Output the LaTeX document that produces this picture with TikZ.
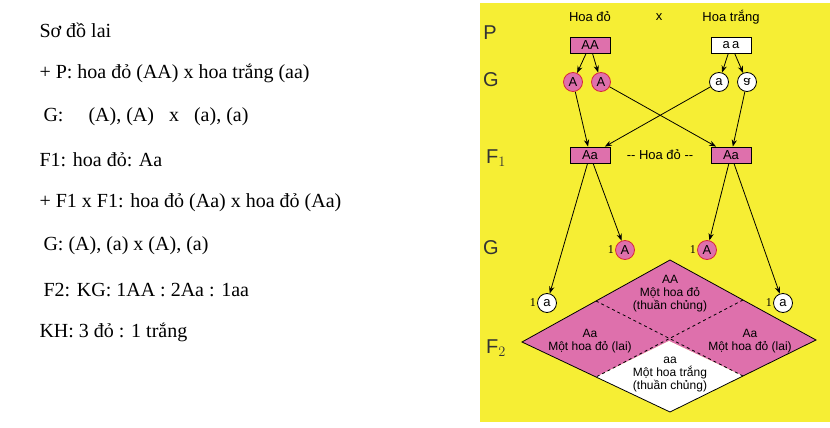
\documentclass[tikz,border=0pt]{standalone}
\usepackage{fontspec}
\setmainfont{Liberation Serif}
\newfontfamily\panelfont{Liberation Sans}
\usetikzlibrary{arrows.meta,calc}
\definecolor{panelyellow}{RGB}{246,238,52}
\definecolor{flowerpink}{RGB}{222,112,172}
\definecolor{gameteRed}{RGB}{215,40,60}
\begin{document}
\begin{tikzpicture}[x=1pt,y=-1pt,
  line/.style={anchor=west,font=\fontsize{20}{22}\selectfont},
  gbox/.style={draw,thick,minimum width=40pt,minimum height=16pt,inner sep=0pt,font=\panelfont\fontsize{13}{14}\selectfont},
  gam/.style={circle,thick,minimum size=19pt,inner sep=0pt,font=\panelfont\fontsize{13}{14}\selectfont},
  redgam/.style={gam,draw=gameteRed,fill=flowerpink},
  whitegam/.style={gam,draw=black,fill=white},
  tag/.style={font=\panelfont\fontsize{13}{14}\selectfont},
  cell/.style={align=center,font=\panelfont\fontsize{12}{13}\selectfont},
  one/.style={anchor=east,inner sep=1pt,font=\fontsize{12}{13}\selectfont},
  gen/.style={font=\panelfont\fontsize{20}{22}\selectfont,text=black!80},
  arr/.style={thick,-{Stealth[length=7pt]}}]
\useasboundingbox (0,0) rectangle (830,428);
% left column
\node[line] (t1) at (36,30) {Sơ đồ lai};
\node[line] (t2) at (36,73) {+ P: hoa đỏ (AA) x hoa trắng (aa)};
\node[line] (t3) at (40,117) {G:\quad\ (A), (A)\ \ \ x\ \ \ (a), (a)};
\node[line] (t4) at (36,160) {F1: hoa đỏ: Aa};
\node[line] (t5) at (36,203) {+ F1 x F1: hoa đỏ (Aa) x hoa đỏ (Aa)};
\node[line] (t6) at (40,246) {G: (A), (a) x (A), (a)};
\node[line] (t7) at (40,290) {F2: KG: 1AA : 2Aa : 1aa};
\node[line] (t8) at (36,332) {KH: 3 đỏ : 1 trắng};
% panel
\fill[panelyellow] (480,3) rectangle (830,422);
\node[gen] (lP) at (490,33) {P};
\node[gen] (lG1) at (491,80) {G};
\node[gen] (lF1) at (496,158) {F$_1$};
\node[gen] (lG2) at (491,248) {G};
\node[gen] (lF2) at (496,348) {F$_2$};
\node[tag] (red) at (590,17) {Hoa đỏ};
\node[tag] (cross) at (659,17) {x};
\node[tag] (white) at (731,17) {Hoa trắng};
\node[gbox,fill=flowerpink] (AA) at (590,45) {AA};
\node[gbox,fill=white] (aa) at (731,45) {a\,a};
\node[redgam] (A1) at (573,82) {A};
\node[redgam] (A2) at (601,82) {A};
\node[whitegam] (a1) at (719,82) {a};
\node[whitegam] (a2) at (747,82) {\rotatebox{180}{\reflectbox{a}}};
\node[gbox,fill=flowerpink] (F1L) at (590,155) {Aa};
\node[gbox,fill=flowerpink] (F1R) at (731,155) {Aa};
\node[tag] (mid) at (660,155) {-- Hoa đỏ --};
\node[redgam] (gA1) at (625,250) {A};
\node[redgam] (gA2) at (707,250) {A};
\node[whitegam] (ga1) at (547,303) {a};
\node[whitegam] (ga2) at (783,303) {a};
\node[one] at (gA1.west) {1};
\node[one] at (gA2.west) {1};
\node[one] at (ga1.west) {1};
\node[one] at (ga2.west) {1};
\draw[arr] (AA) -- (A1);
\draw[arr] (AA) -- (A2);
\draw[arr] (aa) -- (a1);
\draw[arr] (aa) -- (a2);
\draw[arr] (A1) -- (F1L);
\draw[arr] (a1) -- (F1L);
\draw[arr] (A2) -- (F1R);
\draw[arr] (a2) -- (F1R);
\draw[arr] (F1L) -- (ga1);
\draw[arr] (F1L) -- (gA1);
\draw[arr] (F1R) -- (gA2);
\draw[arr] (F1R) -- (ga2);
% F2 square
\coordinate (T) at (670,260);
\coordinate (R) at (816,340);
\coordinate (B) at (670,412);
\coordinate (L) at (522,342);
\coordinate (C) at ($(L)!0.5!(R)$);
\coordinate (TL) at ($(T)!0.5!(L)$);
\coordinate (TR) at ($(T)!0.5!(R)$);
\coordinate (BL) at ($(B)!0.5!(L)$);
\coordinate (BR) at ($(B)!0.5!(R)$);
\fill[flowerpink] (T) -- (R) -- (BR) -- (C) -- (BL) -- (L) -- cycle;
\fill[white] (C) -- (BR) -- (B) -- (BL) -- cycle;
\draw[thick,dashed] (TL) -- (BR);
\draw[thick,dashed] (TR) -- (BL);
\draw[thick] (T) -- (R) -- (B) -- (L) -- cycle;
\node[cell] (cAA) at (670,294) {AA\\Một hoa đỏ\\(thuần chủng)};
\node[cell] (cAaL) at (590,341) {Aa\\Một hoa đỏ (lai)};
\node[cell] (cAaR) at (750,341) {Aa\\Một hoa đỏ (lai)};
\node[cell] (caa) at (670,375) {aa\\Một hoa trắng\\(thuần chủng)};
\end{tikzpicture}
\end{document}
